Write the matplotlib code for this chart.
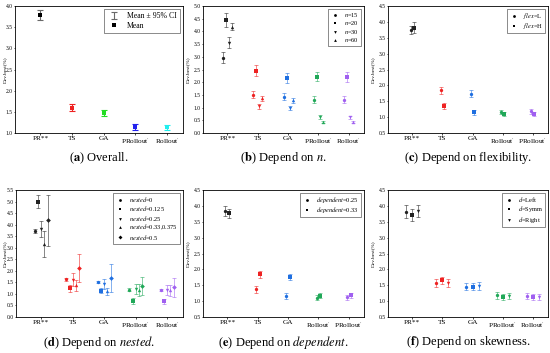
import numpy as np
import matplotlib.pyplot as plt
from matplotlib.lines import Line2D
from matplotlib.transforms import blended_transform_factory

plt.rcParams['font.family'] = ['Liberation Serif', 'DejaVu Serif']
plt.rcParams['mathtext.fontset'] = 'stix'

P = r"PRollout$^{\prime}$"
R = r"Rollout$^{\prime}$"
cats_std = ['PR**', 'TS', 'GA', P, R]
cats_swap = ['PR**', 'TS', 'GA', R, P]

# (a) overall
a_mean = [3.79, 1.60, 1.47, 1.15, 1.13]
a_ci = [0.11, 0.08, 0.07, 0.07, 0.06]
a_colors = ['black', '#ee2222', '#22dd22', '#2222ee', '#22eeee']

# (b) depend on n  (rows: n=15, 20, 30, 60)
b_labels = [r'$n$=15', r'$n$=20', r'$n$=30', r'$n$=60']
b_mean = [[2.97, 1.51, 1.43, 1.31, 1.31],
          [4.45, 2.46, 2.16, 2.22, 2.20],
          [3.56, 1.05, 0.99, 0.64, 0.62],
          [4.19, 1.36, 1.28, 0.44, 0.42]]
b_err = [[0.23, 0.15, 0.14, 0.13, 0.13],
         [0.26, 0.22, 0.20, 0.18, 0.20],
         [0.20, 0.10, 0.08, 0.07, 0.05],
         [0.15, 0.10, 0.08, 0.04, 0.04]]

# (c) depend on flexibility
c_labels = [r'$flex$=L', r'$flex$=H']
c_mean = [[3.75, 1.84, 1.74, 1.16, 1.18],
          [3.82, 1.36, 1.16, 1.10, 1.10]]
c_err = [[0.13, 0.12, 0.10, 0.07, 0.07],
         [0.18, 0.10, 0.08, 0.07, 0.07]]

# (d) depend on nested
d_labels = [r'$nested$=0', r'$nested$=0.125', r'$nested$=0.25',
            r'$nested$=0.33,0.375', r'$nested$=0.5']
d_mean = [[3.73, 1.64, 1.53, 1.19, 1.17],
          [5.00, 1.25, 1.14, 0.70, 0.68],
          [3.80, 1.61, 1.44, 1.20, 1.17],
          [3.17, 1.37, 1.12, 1.17, 1.15],
          [4.19, 2.12, 1.68, 1.35, 1.28]]
d_err = [[0.10, 0.06, 0.05, 0.05, 0.05],
         [0.30, 0.15, 0.10, 0.12, 0.12],
         [0.35, 0.28, 0.22, 0.22, 0.20],
         [0.55, 0.25, 0.15, 0.25, 0.22],
         [1.10, 0.60, 0.60, 0.40, 0.42]]

# (e) depend on dependent
e_labels = [r'$dependent$=0.25', r'$dependent$=0.33']
e_mean = [[3.84, 1.37, 1.16, 1.10, 1.12],
          [3.76, 1.84, 1.77, 1.17, 1.19]]
e_err = [[0.17, 0.10, 0.09, 0.08, 0.08],
         [0.15, 0.12, 0.10, 0.08, 0.08]]

# (f) depend on skewness
f_labels = [r'$d$=Left', r'$d$=Symm', r'$d$=Right']
f_mean = [[3.82, 1.58, 1.46, 1.18, 1.17],
          [3.71, 1.65, 1.46, 1.13, 1.12],
          [3.84, 1.58, 1.47, 1.17, 1.14]]
f_err = [[0.20, 0.12, 0.12, 0.10, 0.10],
         [0.20, 0.12, 0.12, 0.10, 0.10],
         [0.20, 0.12, 0.12, 0.10, 0.10]]

grp_colors = ['#222222', '#ee2222', '#1f6fe0', '#20a858', '#a060f0']
markers = ['o', 's', 'v', '^', 'D']

FS = 4.0
MS = 2.4
W, H = 550, 353


def make_ax(fig, left, right, top, bottom):
    return fig.add_axes([left / W, 1 - bottom / H, (right - left) / W, (bottom - top) / H])


def style(ax, cats, ylim, caption, label_x):
    ax.set_xlim(-0.8, 4.5)
    ax.set_ylim(*ylim)
    ax.set_xticks(range(len(cats)))
    ax.set_xticklabels(cats, fontsize=5.2)
    yt = np.arange(ylim[0], ylim[1] + 0.01, 0.5)
    ax.set_yticks(yt)
    ax.set_yticklabels(['%.1f' % t for t in yt], fontsize=FS)
    ax.tick_params(axis='y', length=1.0, width=0.5, pad=0.5)
    ax.tick_params(axis='x', length=1.5, width=0.5, pad=1.0)
    for s in ax.spines.values():
        s.set_linewidth(0.6)
    ax.set_ylabel('Dev.best(%)', fontsize=3.9)
    trans = blended_transform_factory(ax.figure.transFigure, ax.transAxes)
    ax.yaxis.set_label_coords(label_x / W, 0.5, transform=trans)
    ax.text(0.5, -0.2, caption, transform=ax.transAxes, ha='center', va='center', fontsize=9)


def multi(ax, means, errs, labels, offsets, cats, ylim, caption, label_x):
    for k, (m, e) in enumerate(zip(means, errs)):
        for i in range(len(m)):
            x = i + offsets[k]
            ax.errorbar(x, m[i], yerr=e[i], fmt='none', ecolor=grp_colors[i],
                        alpha=0.55, elinewidth=0.7, capsize=1.3, capthick=0.7)
            ax.plot(x, m[i], marker=markers[k], color=grp_colors[i], markersize=MS,
                    markeredgewidth=0, linestyle='none')
    handles = [Line2D([], [], marker=markers[k], color='black', markersize=MS - 0.4,
                      markeredgewidth=0, linestyle='none') for k in range(len(labels))]
    ax.legend(handles, labels, loc='upper right', fontsize=4.6, frameon=True, fancybox=False,
              edgecolor='black', handlelength=1.6, handletextpad=0.6, labelspacing=0.05,
              borderpad=0.3, borderaxespad=0.5).get_frame().set_linewidth(0.4)
    style(ax, cats, ylim, caption, label_x)


fig = plt.figure(figsize=(5.5, 3.53), dpi=100)

# (a)
ax = make_ax(fig, 15, 183, 6, 133)
for i in range(5):
    ax.errorbar(i, a_mean[i], yerr=a_ci[i], fmt='none', ecolor=a_colors[i] if i else 'dimgray',
                elinewidth=0.8, capsize=2.2, capthick=0.8,
                label='Mean \u00b1 95% CI' if i == 0 else None)
    ax.plot(i, a_mean[i], marker='s', color=a_colors[i], markersize=MS, markeredgewidth=0,
            linestyle='none', label='Mean' if i == 0 else None)
h, l = ax.get_legend_handles_labels()
order = [l.index('Mean \u00b1 95% CI'), l.index('Mean')]
ax.legend([h[j] for j in order], [l[j] for j in order], loc='upper right', fontsize=5.6,
          frameon=True, fancybox=False, edgecolor='black', handlelength=1.8,
          labelspacing=0.2, borderpad=0.4, borderaxespad=0.4).get_frame().set_linewidth(0.4)
style(ax, cats_std, (1.0, 4.0), r'($\mathbf{a}$) Overall.', 7)

# (b)
ax = make_ax(fig, 203, 364, 6, 133)
multi(ax, b_mean, b_err, b_labels, [-0.15, -0.05, 0.05, 0.15], cats_std, (0.0, 5.0),
      r'($\mathbf{b}$) Depend on $n$.', 190)

# (c)
ax = make_ax(fig, 388, 548, 6, 133)
multi(ax, c_mean, c_err, c_labels, [-0.05, 0.05], cats_swap, (0.5, 4.5),
      r'($\mathbf{c}$) Depend on flexibility.', 375)

# (d)
ax = make_ax(fig, 16, 183, 190, 317)
multi(ax, d_mean, d_err, d_labels, [-0.2, -0.1, 0.0, 0.1, 0.2], cats_std, (0.0, 5.5),
      r'($\mathbf{d}$) Depend on $nested$.', 7)

# (e)
ax = make_ax(fig, 203, 364, 190, 317)
multi(ax, e_mean, e_err, e_labels, [-0.06, 0.06], cats_swap, (0.5, 4.5),
      r'($\mathbf{e}$) Depend on $dependent$.', 190)

# (f)
ax = make_ax(fig, 388, 548, 190, 317)
multi(ax, f_mean, f_err, f_labels, [-0.2, 0.0, 0.2], cats_std, (0.5, 4.5),
      r'($\mathbf{f}$) Depend on skewness.', 375)

fig.savefig('out.png', dpi=100)
